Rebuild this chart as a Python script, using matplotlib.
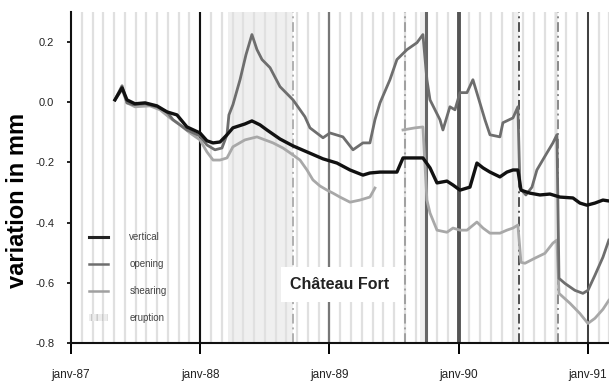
import numpy as np
import matplotlib
matplotlib.use("Agg")
import matplotlib.pyplot as plt
from matplotlib.lines import Line2D
from matplotlib.patches import Patch

plt.rcParams['font.family'] = ['Liberation Sans', 'DejaVu Sans']
plt.rcParams['axes.unicode_minus'] = False

# ---------------- data (decimal years, mm) ----------------
vert_t = [1987.340, 1987.395, 1987.433, 1987.495, 1987.573, 1987.665, 1987.743, 1987.820, 1987.897, 1987.998,
          1988.052, 1988.099, 1988.153, 1988.207, 1988.253, 1988.346, 1988.400, 1988.462, 1988.516, 1988.617,
          1988.718, 1988.826, 1988.950, 1989.058, 1989.159, 1989.259, 1989.313, 1989.391, 1989.522, 1989.569,
          1989.723, 1989.778, 1989.832, 1989.909, 1989.956, 1990.010, 1990.087, 1990.141, 1990.188, 1990.242,
          1990.319, 1990.373, 1990.420, 1990.458, 1990.482, 1990.551, 1990.629, 1990.706, 1990.783, 1990.884,
          1990.938, 1990.992, 1991.054, 1991.116, 1991.162]
vert_v = [0.008, 0.048, 0.008, -0.005, -0.002, -0.012, -0.032, -0.042, -0.082, -0.102,
          -0.128, -0.135, -0.132, -0.108, -0.085, -0.072, -0.062, -0.075, -0.092, -0.122,
          -0.145, -0.165, -0.188, -0.202, -0.225, -0.242, -0.235, -0.232, -0.232, -0.185,
          -0.185, -0.218, -0.268, -0.262, -0.275, -0.292, -0.282, -0.202, -0.218, -0.232,
          -0.248, -0.232, -0.225, -0.225, -0.292, -0.302, -0.308, -0.305, -0.315, -0.318,
          -0.335, -0.342, -0.335, -0.325, -0.328]

open_t = [1987.340, 1987.395, 1987.433, 1987.480, 1987.573, 1987.665, 1987.743, 1987.789, 1987.897, 1987.998,
          1988.052, 1988.114, 1988.168, 1988.207, 1988.222, 1988.253, 1988.308, 1988.354, 1988.400, 1988.439,
          1988.478, 1988.540, 1988.617, 1988.718, 1988.810, 1988.849, 1988.950, 1989.004, 1989.104, 1989.182,
          1989.259, 1989.313, 1989.352, 1989.391, 1989.468, 1989.522, 1989.600, 1989.677, 1989.723, 1989.754,
          1989.778, 1989.855, 1989.878, 1989.932, 1989.971, 1990.010, 1990.064, 1990.110, 1990.164, 1990.203,
          1990.242, 1990.319, 1990.342, 1990.420, 1990.458, 1990.474, 1990.520, 1990.567, 1990.605, 1990.683,
          1990.729, 1990.760, 1990.776, 1990.822, 1990.899, 1990.961, 1991.000, 1991.054, 1991.116, 1991.162]
open_v = [0.008, 0.055, -0.002, -0.008, -0.005, -0.015, -0.032, -0.058, -0.092, -0.112,
          -0.142, -0.158, -0.152, -0.108, -0.042, -0.008, 0.075, 0.158, 0.225, 0.175,
          0.142, 0.115, 0.052, 0.008, -0.048, -0.085, -0.118, -0.102, -0.115, -0.158,
          -0.135, -0.135, -0.058, -0.002, 0.075, 0.142, 0.175, 0.198, 0.225, 0.075,
          0.008, -0.058, -0.092, -0.015, -0.025, 0.032, 0.032, 0.075, -0.002, -0.058,
          -0.108, -0.115, -0.068, -0.052, -0.015, -0.285, -0.308, -0.282, -0.225, -0.168,
          -0.135, -0.108, -0.585, -0.602, -0.625, -0.635, -0.625, -0.575, -0.515, -0.458]

shear_t = [1987.340, 1987.395, 1987.433, 1987.495, 1987.611, 1987.689, 1987.766, 1987.843, 1987.921, 1987.998,
           1988.052, 1988.099, 1988.153, 1988.207, 1988.253, 1988.346, 1988.439, 1988.501, 1988.563, 1988.640,
           1988.694, 1988.772, 1988.826, 1988.872, 1988.926, 1988.981, 1989.027, 1989.081, 1989.159, 1989.236,
           1989.313, 1989.352, 1989.460, 1989.569, 1989.662, 1989.723, 1989.754, 1989.778, 1989.832, 1989.909,
           1989.956, 1990.010, 1990.064, 1990.141, 1990.188, 1990.242, 1990.319, 1990.373, 1990.420, 1990.458,
           1990.482, 1990.513, 1990.590, 1990.667, 1990.729, 1990.760, 1990.776, 1990.861, 1990.938, 1991.000,
           1991.054, 1991.116, 1991.162]
shear_v = [0.008, 0.042, -0.002, -0.015, -0.012, -0.025, -0.052, -0.075, -0.102, -0.125,
           -0.165, -0.192, -0.192, -0.185, -0.148, -0.125, -0.115, -0.125, -0.135, -0.152,
           -0.168, -0.192, -0.225, -0.258, -0.278, -0.292, -0.302, -0.315, -0.332, -0.325,
           -0.315, -0.285, np.nan, -0.092, -0.085, -0.082, -0.325, -0.368, -0.425, -0.432,
           -0.418, -0.425, -0.425, -0.398, -0.418, -0.435, -0.435, -0.425, -0.418, -0.408,
           -0.532, -0.535, -0.518, -0.502, -0.468, -0.458, -0.635, -0.668, -0.702, -0.735,
           -0.718, -0.688, -0.658]

eruption_dates = [1988.718, 1989.584, 1990.466, 1990.768]
eruption_colors = ['#b0b0b0', '#a0a0a0', '#505050', '#8a8a8a']
eruption_spans = [(1988.215, 1988.718), (1989.70, 1989.76), (1990.41, 1990.466), (1990.74, 1990.768)]

year_lines = [1988.0, 1989.0, 1989.747, 1990.0, 1991.0]
year_line_colors = ['#111111', '#777777', '#666666', '#555555', '#222222']
year_line_widths = [1.5, 1.6, 2.2, 2.8, 1.2]

tick_pos = [1987.0, 1988.0, 1989.0, 1990.0, 1991.0]
tick_labels = ['janv-87', 'janv-88', 'janv-89', 'janv-90', 'janv-91']
ytick_pos = [-0.8, -0.6, -0.4, -0.2, 0.0, 0.2]
ytick_labels = ['-0.8', '-0.6', '-0.4', '-0.2', '0.0', '0.2']

# ---------------- figure ----------------
fig = plt.figure(figsize=(6.09, 3.90), dpi=100)
ax = fig.add_axes([71/609, 47/390, 538/609, 331/390])
ax.set_xlim(1987.0, 1991.163)
ax.set_ylim(-0.8, 0.3)

# monthly light grid lines
months = np.arange(1987 + 1/12, 1991.17, 1/12)
for m in months:
    ax.axvline(m, color='#e0e0e0', lw=1.6, zorder=0)

for (a, b) in eruption_spans:
    ax.axvspan(a, b, color='#efefef', lw=0, zorder=-1)

for x, c, w in zip(year_lines, year_line_colors, year_line_widths):
    ax.axvline(x, color=c, lw=w, zorder=1)

for x, c in zip(eruption_dates, eruption_colors):
    ax.axvline(x, color=c, lw=1.4, ls=(0, (5, 2, 1, 2)), zorder=1)

ax.plot(shear_t, shear_v, color='#a8a8a8', lw=2.0, zorder=3)
ax.plot(open_t, open_v, color='#6e6e6e', lw=2.0, zorder=3)
ax.plot(vert_t, vert_v, color='#111111', lw=2.4, zorder=4)

ax.set_xticks(tick_pos)
ax.set_xticklabels(tick_labels, fontsize=8.5, color='#222222')
ax.set_yticks(ytick_pos)
ax.set_yticklabels(ytick_labels, fontsize=8, color='#222222')
ax.tick_params(axis='x', direction='out', length=8, width=1.4, pad=11)
ax.tick_params(axis='y', direction='out', length=3, width=1.2, pad=9)

for s in ['top', 'right']:
    ax.spines[s].set_visible(False)
for s in ['left', 'bottom']:
    ax.spines[s].set_linewidth(1.5)
    ax.spines[s].set_color('#111111')

ax.set_ylabel('variation in mm', fontsize=17, fontweight='bold')
ax.yaxis.set_label_coords(-0.078, 0.43)

ax.text(1989.08, -0.605, 'Château Fort', fontsize=11.5, fontweight='bold', color='#222222',
        ha='center', va='center', zorder=6,
        bbox=dict(facecolor='white', edgecolor='none', pad=7))

handles = [Line2D([0], [0], color='#222222', lw=2.2),
           Line2D([0], [0], color='#6e6e6e', lw=1.8),
           Line2D([0], [0], color='#a0a0a0', lw=1.8),
           Patch(facecolor='#ececec', edgecolor='#c8c8c8', hatch='|||', lw=0)]
labels = ['vertical', 'opening', 'shearing', 'eruption']
leg = ax.legend(handles, labels, loc='lower left', bbox_to_anchor=(0.02, 0.04),
                frameon=False, fontsize=7, labelspacing=1.75, handlelength=2.0,
                handletextpad=2.2, borderaxespad=0.3)
for t in leg.get_texts():
    t.set_color('#444444')

fig.savefig('out.png', dpi=100)
